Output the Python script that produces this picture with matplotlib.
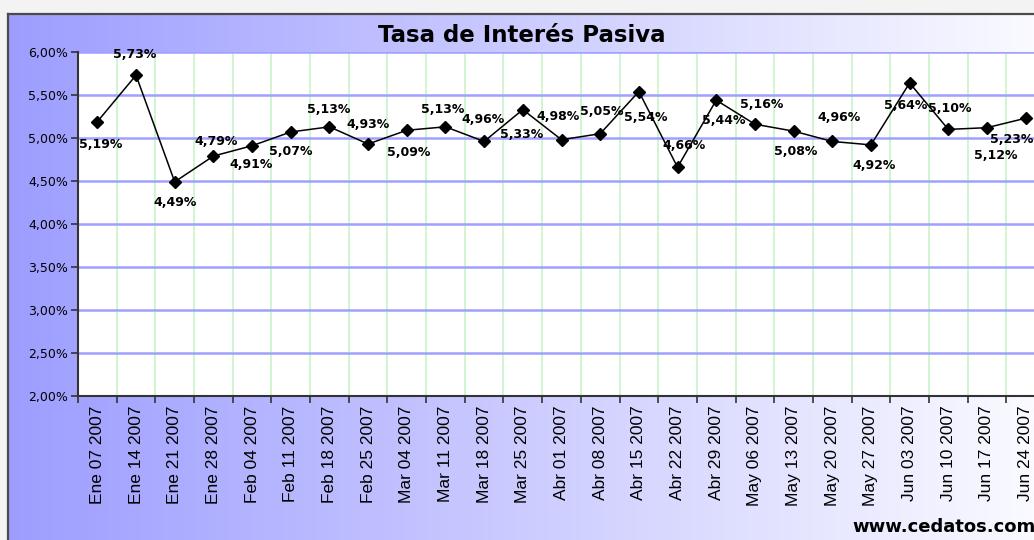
import matplotlib.pyplot as plt
import numpy as np
from matplotlib.lines import Line2D

# datos semanales 2007
fechas = ["Ene 07 2007", "Ene 14 2007", "Ene 21 2007", "Ene 28 2007", "Feb 04 2007",
          "Feb 11 2007", "Feb 18 2007", "Feb 25 2007", "Mar 04 2007", "Mar 11 2007",
          "Mar 18 2007", "Mar 25 2007", "Abr 01 2007", "Abr 08 2007", "Abr 15 2007",
          "Abr 22 2007", "Abr 29 2007", "May 06 2007", "May 13 2007", "May 20 2007",
          "May 27 2007", "Jun 03 2007", "Jun 10 2007", "Jun 17 2007", "Jun 24 2007"]
tasa = [5.19, 5.73, 4.49, 4.79, 4.91, 5.07, 5.13, 4.93, 5.09, 5.13,
        4.96, 5.33, 4.98, 5.05, 5.54, 4.66, 5.44, 5.16, 5.08, 4.96,
        4.92, 5.64, 5.10, 5.12, 5.23]
y_ticks = [2.0, 2.5, 3.0, 3.5, 4.0, 4.5, 5.0, 5.5, 6.0]

# desplazamiento de las etiquetas en pixeles (dx, dy hacia abajo)
lab_dx = [3, -1, 0, 3, -1, 0, -1, 0, 2, -3, -1, -1, -3, 2, 7, 7, 8, 7, 2, 7, 3, -4, 1, 9, -14]
lab_dy = [23, -21, 21, -15, 19, 20, -17, -20, 22, -17, -22, 25, -23, -22, 26, -22, 20, -20, 20, -24, 21, 23, -21, 28, 21]

W, H = 1034, 540
fig = plt.figure(figsize=(W / 100, H / 100), dpi=100)
fig.patch.set_facecolor("#f3f3f3")

# fondo con degradado
fx0, fy1 = 8 / W, 1 - 14 / H
bg = fig.add_axes([fx0, 0, 1 - fx0, fy1])
grad = np.linspace(0, 1, 512)
c0 = np.array([157, 157, 255]) / 255.0
c1 = np.array([250, 250, 255]) / 255.0
img = c0[None, None, :] + (c1 - c0)[None, None, :] * grad[None, :, None]
bg.imshow(img, aspect="auto", extent=[0, 1, 0, 1])
bg.set_axis_off()

fig.add_artist(Line2D([fx0, fx0], [0, fy1], transform=fig.transFigure, color="#4a4a4a", lw=1.6))
fig.add_artist(Line2D([fx0, 1], [fy1, fy1], transform=fig.transFigure, color="#4a4a4a", lw=1.6))

# area del grafico (se sale por la derecha como en la captura)
x0, x1 = 78 / W, 1045 / W
y0, y1 = 1 - 396 / H, 1 - 52 / H
ax = fig.add_axes([x0, y0, x1 - x0, y1 - y0])
ax.set_facecolor("white")

x = np.arange(len(fechas))
ax.plot(x, tasa, color="black", lw=1.1, marker="D", ms=6.5, zorder=5)

ax.set_xlim(-0.5, len(fechas) - 0.5)
ax.set_ylim(2.0, 6.0)
ax.set_yticks(y_ticks)
ax.set_yticklabels([("%.2f" % v).replace(".", ",") + "%" for v in y_ticks], fontsize=9)
ax.set_xticks(x)
ax.set_xticklabels(fechas, rotation=90, fontsize=12.5, family="Liberation Sans")
ax.set_xticks(np.arange(len(fechas) + 1) - 0.5, minor=True)
ax.tick_params(axis="x", which="major", length=0, pad=7)
ax.tick_params(axis="x", which="minor", length=5, width=1.2, color="#333333")
ax.tick_params(axis="y", length=5, width=1.2, color="#333333", pad=2)

ax.grid(True, axis="y", which="major", color="#a0a0ff", lw=1.8, zorder=1)
ax.grid(True, axis="x", which="minor", color="#ccf5cc", lw=1.3, zorder=1)
ax.set_axisbelow(True)

for s in ["top", "right"]:
    ax.spines[s].set_visible(False)
ax.spines["left"].set_color("#333333")
ax.spines["bottom"].set_color("#333333")
ax.spines["left"].set_linewidth(1.5)
ax.spines["bottom"].set_linewidth(1.5)

for i, v in enumerate(tasa):
    txt = ("%.2f" % v).replace(".", ",") + "%"
    ax.annotate(txt, (i, v), xytext=(lab_dx[i] * 0.72, -lab_dy[i] * 0.72),
                textcoords="offset points", ha="center", va="center",
                fontsize=9, fontweight="bold", zorder=6)

fig.text(522 / W, 1 - 36 / H, "Tasa de Interés Pasiva", ha="center", va="center",
         fontsize=16.5, fontweight="bold")
fig.text(852 / W, 1 - 527 / H, "www.cedatos.com", ha="left", va="center",
         fontsize=13, fontweight="bold")

fig.savefig("out.png", dpi=100)
